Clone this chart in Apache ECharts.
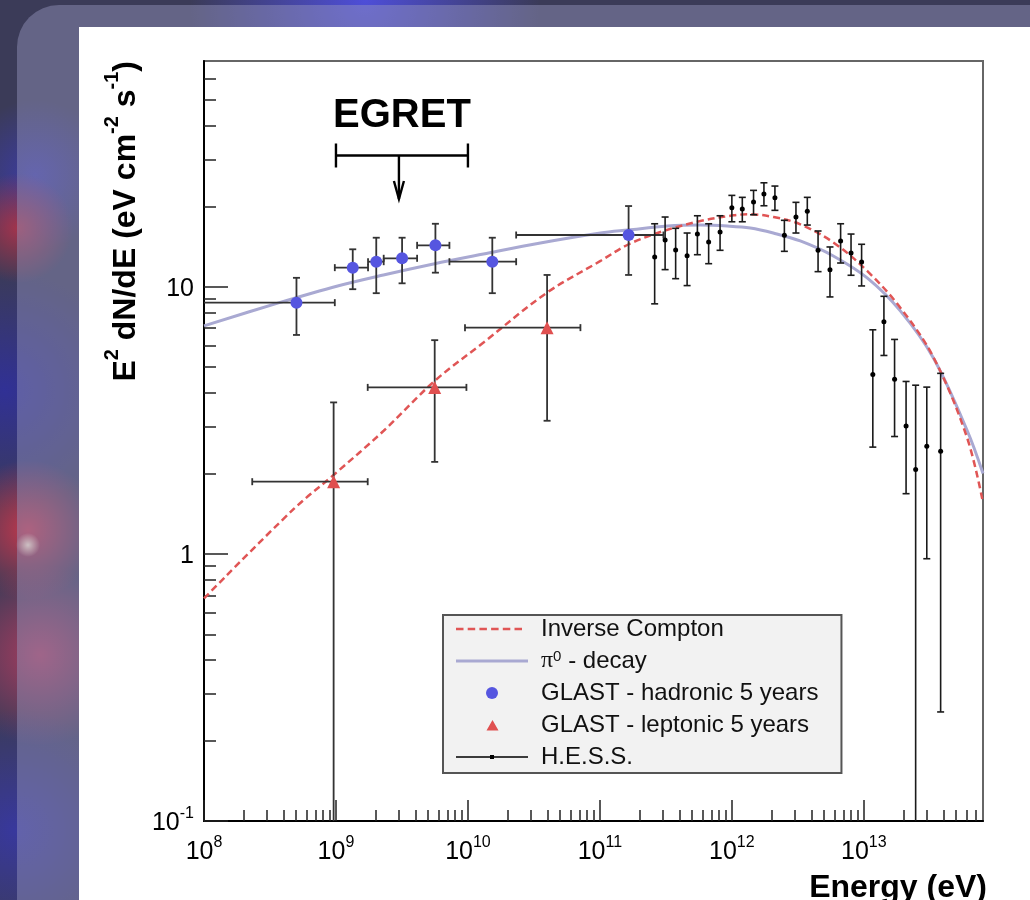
<!DOCTYPE html>
<html>
<head>
<meta charset="utf-8">
<script src="https://cdn.jsdelivr.net/npm/echarts@6/dist/echarts.min.js"></script>
<style>
html,body{margin:0;padding:0;background:#3b3b58;}
#c{width:1030px;height:900px;}
</style>
</head>
<body>
<div id="c"></div>
<script>
const FONT = 'Liberation Sans, Arial, Helvetica, sans-serif';

// ---------------- data ----------------
// Inverse Compton model curve
const icE = [1e8, 4.79e8, 9.79e8, 2.30e9, 5.60e9, 1.32e10, 3.98e10, 1.01e11, 1.65e11, 3.04e11, 5.77e11, 1.03e12, 1.38e12, 2.07e12, 3.30e12, 5.91e12, 1.06e13, 1.89e13, 3.38e13, 6.05e13, 8e13];
const icF = [0.681, 1.473, 1.991, 2.89, 4.44, 6.20, 9.51, 12.49, 14.42, 16.17, 17.62, 18.51, 18.67, 18.24, 17.13, 14.62, 11.46, 8.35, 5.43, 2.73, 1.555];
// pi0-decay model curve
const pi0E = [1e8, 3.67e8, 1.03e9, 2.29e9, 5.48e9, 1.31e10, 3.54e10, 1.01e11, 1.64e11, 3.25e11, 5.77e11, 9.25e11, 1.38e12, 2.06e12, 3.30e12, 5.87e12, 1.06e13, 1.89e13, 3.36e13, 6.08e13, 8e13];
const pi0F = [7.14, 8.70, 10.07, 11.07, 12.17, 13.26, 14.58, 15.89, 16.31, 16.88, 17.02, 16.88, 16.59, 15.89, 14.84, 13.04, 10.79, 8.12, 5.42, 2.89, 2.00];

// GLAST - hadronic 5 years
const hadE   = [5.02e8, 1.34e9, 2.02e9, 3.17e9, 5.67e9, 1.53e10, 1.65e11];
const hadELo = [1e8, 9.8e8, 1.75e9, 2.30e9, 4.12e9, 7.24e9, 2.32e10];
const hadEHi = [9.8e8, 1.75e9, 2.30e9, 4.12e9, 7.24e9, 2.32e10, 3.03e11];
const hadF   = [8.72, 11.79, 12.41, 12.78, 14.29, 12.41, 15.62];
const hadFLo = [6.60, 9.79, 9.46, 10.30, 11.29, 9.46, 11.07];
const hadFHi = [10.8, 13.81, 15.26, 15.26, 17.21, 15.26, 20.05];

// GLAST - leptonic 5 years
const lepE   = [9.6e8, 5.60e9, 3.98e10];
const lepELo = [2.32e8, 1.74e9, 9.5e9];
const lepEHi = [1.74e9, 9.74e9, 7.12e10];
const lepF   = [1.863, 4.20, 7.03];
const lepFLo = [0.05, 2.21, 3.15];
const lepFHi = [3.69, 6.31, 11.07];

// H.E.S.S.
const hessE   = [2.60e11, 3.12e11, 3.75e11, 4.58e11, 5.48e11, 6.67e11, 8.14e11, 1.00e12, 1.20e12, 1.46e12, 1.75e12, 2.12e12, 2.50e12, 3.06e12, 3.73e12, 4.50e12, 5.54e12, 6.67e12, 8.00e12, 9.62e12, 1.17e13, 1.42e13, 1.71e13, 2.09e13, 2.47e13, 3.00e13, 3.82e13];
const hessF   = [12.92, 14.96, 13.73, 13.07, 15.75, 14.71, 16.03, 19.76, 19.54, 20.75, 22.23, 21.53, 15.58, 18.24, 19.15, 13.69, 11.59, 14.84, 13.38, 12.38, 4.69, 7.39, 4.51, 3.01, 2.07, 2.53, 2.42];
const hessFHi = [17.21, 18.24, 16.55, 15.89, 18.44, 17.21, 18.44, 21.98, 21.61, 22.95, 24.50, 23.82, 17.73, 20.70, 21.61, 16.17, 14.09, 17.21, 15.75, 14.42, 6.90, 9.21, 6.35, 4.42, 4.28, 4.21, 4.74];
const hessFLo = [8.63, 11.59, 10.72, 10.10, 13.18, 12.20, 13.69, 17.51, 17.51, 18.60, 20.10, 19.32, 13.57, 15.89, 17.02, 11.39, 9.16, 12.27, 11.04, 10.07, 2.51, 5.53, 2.75, 1.68, 0.05, 0.959, 0.256];

// EGRET upper limit
const egretE = 3e9, egretELo = 1e9, egretEHi = 1e10, egretF = 31, egretTip = 21.3;

// axis ticks
const xMin = 1e8, xMax = 8e13, yMin = 0.1, yMax = 70;
const xMajorTicks = [1e8, 1e9, 1e10, 1e11, 1e12, 1e13];
const yMajorTicks = [0.1, 1, 10];
const minorMult = [2, 3, 4, 5, 6, 7, 8, 9];
const xMinorTicks = [];
xMajorTicks.forEach(d => minorMult.forEach(m => { if (d * m < xMax * 0.999) xMinorTicks.push(d * m); }));
const yMinorTicks = [];
yMajorTicks.forEach(d => minorMult.forEach(m => { if (d * m < yMax * 0.999) yMinorTicks.push(d * m); }));

const legendNames = ['Inverse Compton', 'π0 - decay', 'GLAST - hadronic 5 years', 'GLAST - leptonic 5 years', 'H.E.S.S.'];

// legend icon shapes (72 x 12 box; the two zero-area corner sub-paths fix the box)
const BOX = 'M0,0L0.01,0Z M72,12L71.99,12Z ';
const ICON_DASH = 'path://' + BOX + 'M0,4.8H7.5V7.2H0Z M11.7,4.8H19.2V7.2H11.7Z M23.4,4.8H30.9V7.2H23.4Z M35.1,4.8H42.6V7.2H35.1Z M46.8,4.8H54.3V7.2H46.8Z M58.5,4.8H66V7.2H58.5Z';
const ICON_LINE = 'path://' + BOX + 'M0,4.6H72V7.4H0Z';
const ICON_TRI = 'path://' + BOX + 'M30.5,11.5L36.5,1L42.5,11.5Z';
const ICON_HESS = 'path://' + BOX + 'M0,5.3H72V6.7H0Z M34,4H38V8H34Z';

// ---------------- helpers ----------------
function rows(e, elo, ehi, f, flo, fhi) {
  return e.map((v, i) => [v, elo ? elo[i] : v, ehi ? ehi[i] : v, f[i], flo[i], fhi[i]]);
}
function errRender(color, width, cap) {
  return function (params, api) {
    const cs = params.coordSys;
    const top = cs.y, bottom = cs.y + cs.height, left = cs.x, right = cs.x + cs.width;
    const e = api.value(0), elo = api.value(1), ehi = api.value(2);
    const f = api.value(3), flo = api.value(4), fhi = api.value(5);
    const c = api.coord([e, f]);
    const pLo = api.coord([e, flo]);
    const pHi = api.coord([e, fhi]);
    const st = { stroke: color, lineWidth: width, fill: null };
    const kids = [];
    const yl = Math.min(pLo[1], bottom), yh = Math.max(pHi[1], top);
    kids.push({ type: 'line', shape: { x1: c[0], y1: yl, x2: c[0], y2: yh }, style: st });
    if (pLo[1] <= bottom) kids.push({ type: 'line', shape: { x1: c[0] - cap, y1: pLo[1], x2: c[0] + cap, y2: pLo[1] }, style: st });
    if (pHi[1] >= top) kids.push({ type: 'line', shape: { x1: c[0] - cap, y1: pHi[1], x2: c[0] + cap, y2: pHi[1] }, style: st });
    if (elo !== ehi) {
      const xl = api.coord([elo, f])[0], xr = api.coord([ehi, f])[0];
      kids.push({ type: 'line', shape: { x1: Math.max(xl, left), y1: c[1], x2: Math.min(xr, right), y2: c[1] }, style: st });
      if (xl > left + 0.5) kids.push({ type: 'line', shape: { x1: xl, y1: c[1] - cap, x2: xl, y2: c[1] + cap }, style: st });
      if (xr < right) kids.push({ type: 'line', shape: { x1: xr, y1: c[1] - cap, x2: xr, y2: c[1] + cap }, style: st });
    }
    return { type: 'group', children: kids };
  };
}
function egretRender(params, api) {
  const e = api.value(0), elo = api.value(1), ehi = api.value(2), f = api.value(3), tip = api.value(4);
  const c = api.coord([e, f]);
  const xl = api.coord([elo, f])[0], xr = api.coord([ehi, f])[0];
  const yt = api.coord([e, tip])[1];
  const mid = api.coord([Math.sqrt(elo * ehi), f])[0];
  const st = { stroke: '#000', lineWidth: 2.4, fill: null };
  return {
    type: 'group',
    children: [
      { type: 'line', shape: { x1: xl, y1: c[1], x2: xr, y2: c[1] }, style: st },
      { type: 'line', shape: { x1: xl, y1: c[1] - 12, x2: xl, y2: c[1] + 12 }, style: st },
      { type: 'line', shape: { x1: xr, y1: c[1] - 12, x2: xr, y2: c[1] + 12 }, style: st },
      { type: 'line', shape: { x1: c[0], y1: c[1], x2: c[0], y2: yt }, style: st },
      { type: 'polyline', shape: { points: [[c[0] - 5, yt - 18], [c[0], yt], [c[0] + 5, yt - 18]] }, style: st },
      { type: 'text', style: { text: 'EGRET', x: mid, y: c[1] - 40, fill: '#000', fontSize: 40, fontWeight: 'bold', fontFamily: FONT, align: 'center', verticalAlign: 'middle' } }
    ]
  };
}
function expLabel(v) {
  const e = Math.round(Math.log10(v));
  if (e === 0) return '{b|1}';
  if (e === 1) return '{b|10}';
  return '{b|10}{s|' + e + '}';
}
const labelRich = {
  b: { fontSize: 25, lineHeight: 30, verticalAlign: 'bottom', fontFamily: FONT, color: '#000' },
  s: { fontSize: 16, lineHeight: 14, verticalAlign: 'top', fontFamily: FONT, color: '#000' }
};
function radial(cx, cy, r, color) {
  return {
    type: 'circle', z: -95, silent: true, shape: { cx: cx, cy: cy, r: r },
    style: { fill: new echarts.graphic.RadialGradient(0.5, 0.5, 0.5, [
      { offset: 0, color: color }, { offset: 1, color: color.replace(/[\d.]+\)$/, '0)') }
    ]) }
  };
}

const chart = echarts.init(document.getElementById('c'), null, { renderer: 'canvas' });

const tickStyle = { color: '#222', width: 1.5 };
const option = {
  animation: false,
  backgroundColor: '#3b3b58',
  graphic: {
    elements: [
      radial(35, 175, 75, 'rgba(60,60,190,0.7)'),
      radial(18, 228, 55, 'rgba(180,50,70,0.85)'),
      radial(5, 390, 120, 'rgba(45,45,170,0.75)'),
      radial(28, 530, 70, 'rgba(205,55,75,0.9)'),
      radial(40, 655, 90, 'rgba(185,60,95,0.85)'),
      radial(15, 830, 120, 'rgba(55,55,180,0.75)'),
      radial(365, 0, 175, 'rgba(80,80,230,0.9)'),
      radial(28, 545, 12, 'rgba(255,235,205,0.95)'),
      { type: 'rect', z: -90, silent: true, shape: { x: 17, y: 5, width: 1100, height: 1000, r: [42, 0, 0, 0] },
        style: { fill: 'rgba(150,150,190,0.45)' } },
      { type: 'rect', z: -80, silent: true, shape: { x: 79, y: 27, width: 960, height: 880 }, style: { fill: '#ffffff' } },
      { type: 'text', z: 100, silent: true, x: 122, y: 61, rotation: Math.PI / 2,
        style: { text: '{b|E}{s|2}{b| dN/dE (eV cm}{s|-2}{b| s}{s|-1}{b|)}', align: 'right', verticalAlign: 'middle',
          rich: {
            b: { fontSize: 32, fontWeight: 'bold', fontFamily: FONT, lineHeight: 40, verticalAlign: 'bottom', fill: '#000' },
            s: { fontSize: 20, fontWeight: 'bold', fontFamily: FONT, lineHeight: 20, verticalAlign: 'top', fill: '#000' }
          } } },
      { type: 'text', z: 100, silent: true, x: 987, y: 872,
        style: { text: 'Energy (eV)', align: 'right', verticalAlign: 'top', fontSize: 32, fontWeight: 'bold', fontFamily: FONT, fill: '#000' } }
    ]
  },
  grid: { left: 204, top: 61, width: 779, height: 760, show: true, borderColor: '#666', borderWidth: 2, backgroundColor: 'transparent' },
  legend: {
    left: 443, top: 615, orient: 'vertical',
    backgroundColor: '#f2f2f2', borderColor: '#555', borderWidth: 2, borderRadius: 0,
    padding: [2, 23, 4, 13], itemGap: 8, itemWidth: 72, itemHeight: 12,
    selectedMode: false,
    textStyle: { fontFamily: FONT, fontSize: 24, lineHeight: 24, color: '#111', padding: [0, 0, 0, 8],
      rich: {
        pi: { fontFamily: 'Liberation Serif, Times New Roman, serif', fontSize: 24, lineHeight: 24, verticalAlign: 'bottom', color: '#111' },
        p: { fontFamily: FONT, fontSize: 24, lineHeight: 24, verticalAlign: 'bottom', color: '#111' },
        s: { fontFamily: FONT, fontSize: 15, lineHeight: 12, verticalAlign: 'top', color: '#111' }
      } },
    formatter: function (name) { return name === legendNames[1] ? '{pi|π}{s|0}{p| - decay}' : name; },
    data: [
      { name: legendNames[0], icon: ICON_DASH },
      { name: legendNames[1], icon: ICON_LINE },
      { name: legendNames[2], icon: 'circle' },
      { name: legendNames[3], icon: ICON_TRI },
      { name: legendNames[4], icon: ICON_HESS }
    ]
  },
  xAxis: [
    { type: 'log', logBase: 10, min: xMin, max: xMax, position: 'bottom',
      axisLine: { show: true, lineStyle: { color: '#000', width: 2 } },
      axisTick: { show: true, inside: true, length: 21, lineStyle: tickStyle, customValues: xMajorTicks },
      axisLabel: { show: true, margin: 14, customValues: xMajorTicks, formatter: expLabel, rich: labelRich },
      splitLine: { show: false }, minorTick: { show: false } },
    { type: 'log', logBase: 10, min: xMin, max: xMax, position: 'bottom',
      axisLine: { show: false },
      axisTick: { show: true, inside: true, length: 11, lineStyle: tickStyle, customValues: xMinorTicks },
      axisLabel: { show: false }, splitLine: { show: false } }
  ],
  yAxis: [
    { type: 'log', logBase: 10, min: yMin, max: yMax, position: 'left',
      axisLine: { show: true, lineStyle: { color: '#000', width: 2 } },
      axisTick: { show: true, inside: true, length: 24, lineStyle: tickStyle, customValues: yMajorTicks },
      axisLabel: { show: true, margin: 10, customValues: yMajorTicks, formatter: expLabel, rich: labelRich },
      splitLine: { show: false }, minorTick: { show: false } },
    { type: 'log', logBase: 10, min: yMin, max: yMax, position: 'left',
      axisLine: { show: false },
      axisTick: { show: true, inside: true, length: 12, lineStyle: tickStyle, customValues: yMinorTicks },
      axisLabel: { show: false }, splitLine: { show: false } }
  ],
  series: [
    { name: legendNames[1], type: 'line', z: 2, data: pi0E.map((e, i) => [e, pi0F[i]]), symbol: 'none', showSymbol: false,
      smooth: 0.35, itemStyle: { color: '#a9a9d2' }, lineStyle: { color: '#a9a9d2', width: 3 } },
    { name: legendNames[0], type: 'line', z: 2, data: icE.map((e, i) => [e, icF[i]]), symbol: 'none', showSymbol: false,
      smooth: 0.35, itemStyle: { color: '#e05555' }, lineStyle: { color: '#e05555', width: 2.5, type: [7, 4] } },
    { name: 'errHad', type: 'custom', z: 3, renderItem: errRender('#333', 1.8, 3.5), data: rows(hadE, hadELo, hadEHi, hadF, hadFLo, hadFHi) },
    { name: 'errLep', type: 'custom', z: 3, renderItem: errRender('#333', 1.8, 3.5), data: rows(lepE, lepELo, lepEHi, lepF, lepFLo, lepFHi) },
    { name: 'errHess', type: 'custom', z: 3, renderItem: errRender('#1a1a1a', 1.6, 3.5), data: rows(hessE, null, null, hessF, hessFLo, hessFHi) },
    { name: 'EGRET', type: 'custom', z: 3, renderItem: egretRender, data: [[egretE, egretELo, egretEHi, egretF, egretTip]] },
    { name: legendNames[2], type: 'scatter', z: 4, symbol: 'circle', symbolSize: 12, itemStyle: { color: '#5656e0', opacity: 1 },
      data: hadE.map((e, i) => [e, hadF[i]]) },
    { name: legendNames[3], type: 'scatter', z: 4, symbol: 'triangle', symbolSize: 13, itemStyle: { color: '#e05050', opacity: 1 },
      data: lepE.map((e, i) => [e, lepF[i]]) },
    { name: legendNames[4], type: 'scatter', z: 4, symbol: 'circle', symbolSize: 5, itemStyle: { color: '#000', opacity: 1 },
      data: hessE.map((e, i) => [e, hessF[i]]) }
  ]
};
chart.setOption(option);
</script>
</body>
</html>
